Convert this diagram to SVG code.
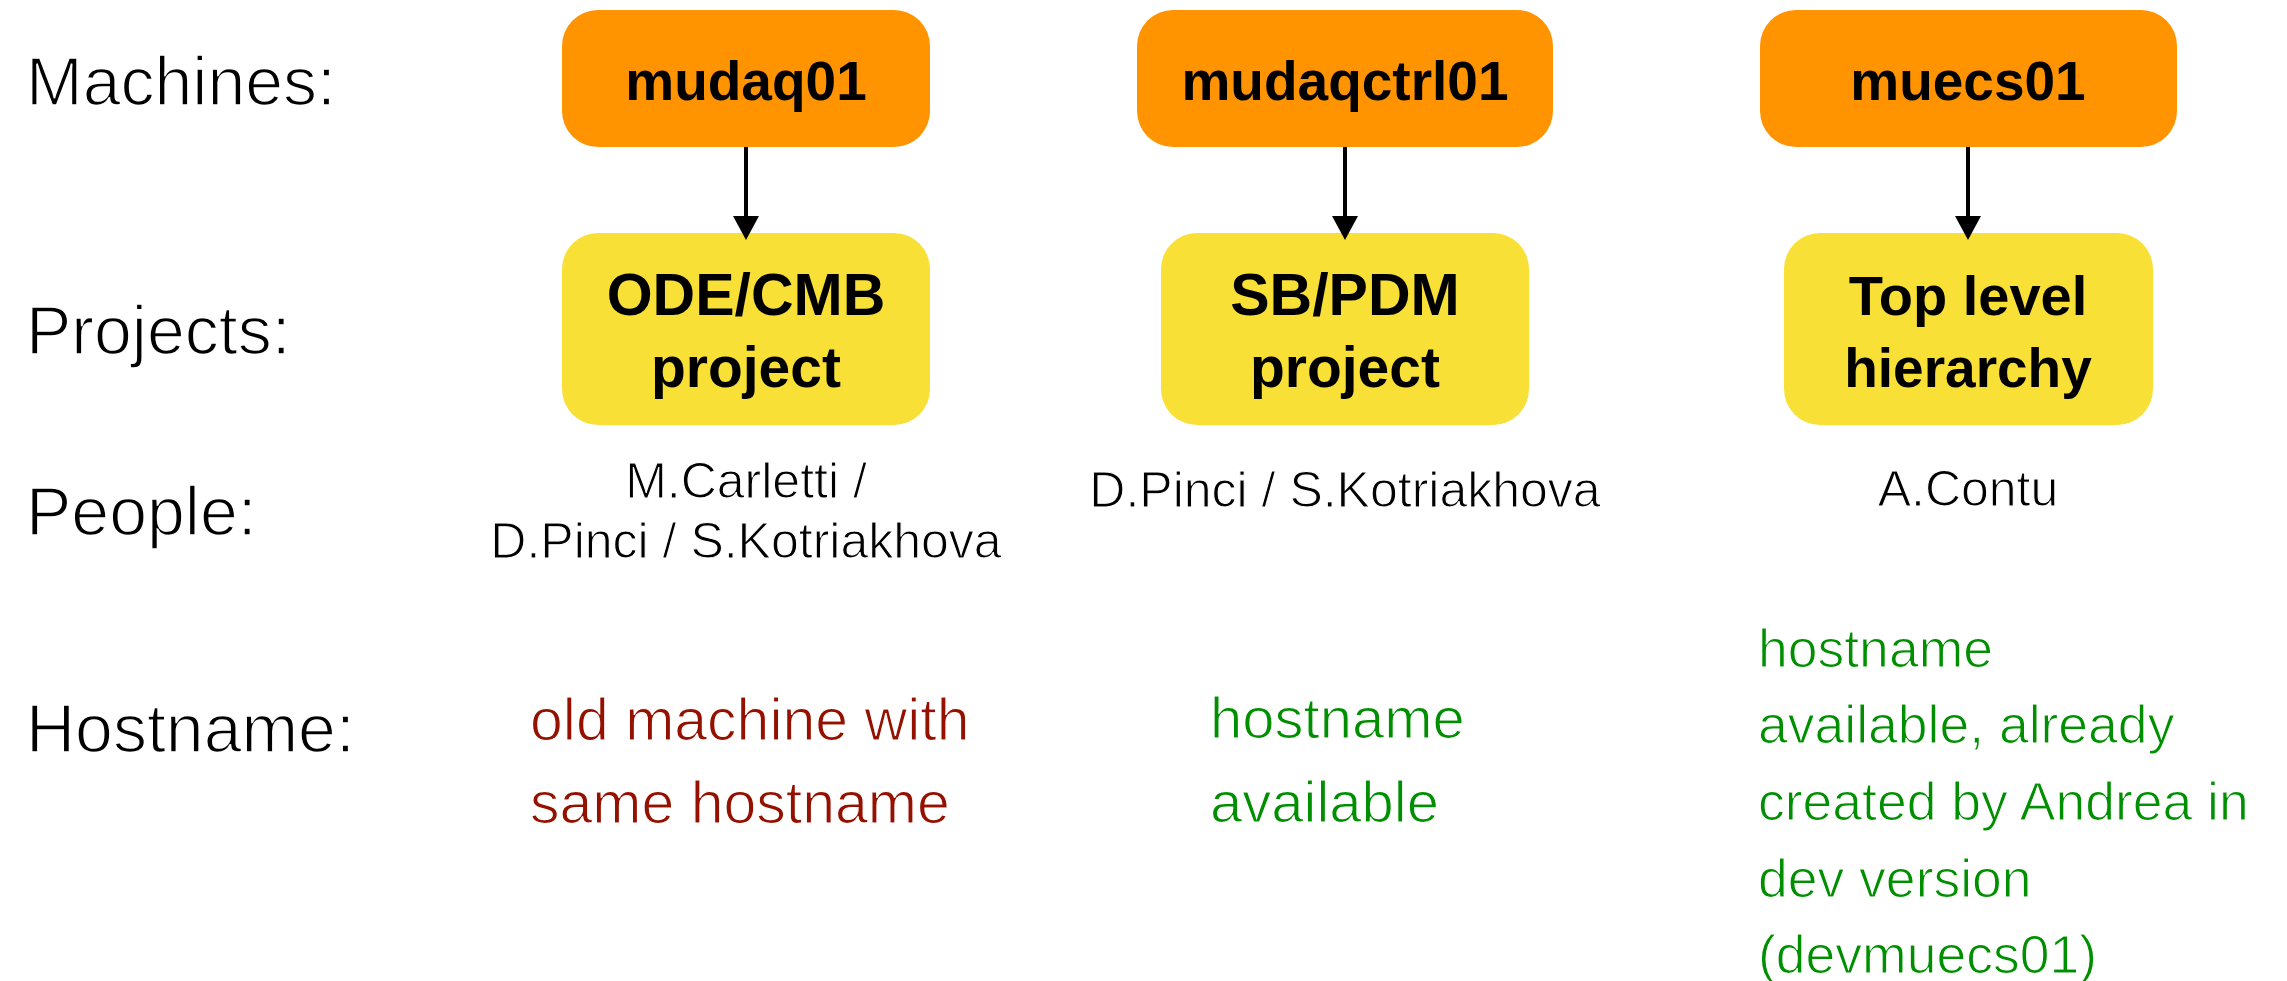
<svg xmlns="http://www.w3.org/2000/svg" width="2287" height="981" viewBox="0 0 2287 981">
<style>
.lbl{font-family:"Liberation Sans",Arial,sans-serif;font-size:68px;fill:#000;stroke:#fff;stroke-width:1.6px}
.mach{fill:#FF9300}
.proj{fill:#F8E036}
.bt{font-family:"Liberation Sans",Arial,sans-serif;font-weight:bold;fill:#000;text-anchor:middle}
.ppl{font-family:"Liberation Sans",Arial,sans-serif;font-size:50px;fill:#000;text-anchor:middle;stroke:#fff;stroke-width:1.1px}
.red{font-family:"Liberation Sans",Arial,sans-serif;font-size:59px;fill:#941100;stroke:#fff;stroke-width:1.2px}
.grn{font-family:"Liberation Sans",Arial,sans-serif;font-size:58px;fill:#008F00;stroke:#fff;stroke-width:1.2px}
.grs{font-family:"Liberation Sans",Arial,sans-serif;font-size:53.5px;fill:#008F00;stroke:#fff;stroke-width:1.1px}
.conn{stroke:#000;stroke-width:4;fill:none;marker-end:url(#ah)}
</style>
<defs>
<marker id="ah" markerUnits="userSpaceOnUse" markerWidth="24" markerHeight="26" refX="16" refY="13" orient="auto" viewBox="0 0 24 26">
<path d="M0,0 L24,13 L0,26 Z" fill="#000"/>
</marker>
</defs>
<rect width="2287" height="981" fill="#fff"/>
<g id="row-labels">
<text class="lbl" x="26" y="105">Machines:</text>
<text class="lbl" x="26" y="354">Projects:</text>
<text class="lbl" x="26" y="535">People:</text>
<text class="lbl" x="26" y="752">Hostname:</text>
</g>
<g id="m-mudaq01">
<rect class="mach" x="562" y="10" width="368" height="137" rx="36"/>
<text class="bt" x="746" y="100" font-size="55">mudaq01</text>
</g>
<g id="m-mudaqctrl01">
<rect class="mach" x="1137" y="10" width="416" height="137" rx="36"/>
<text class="bt" x="1345" y="100" font-size="55">mudaqctrl01</text>
</g>
<g id="m-muecs01">
<rect class="mach" x="1760" y="10" width="417" height="137" rx="36"/>
<text class="bt" x="1968" y="100" font-size="55">muecs01</text>
</g>
<g id="p-odecmb">
<rect class="proj" x="562" y="233" width="368" height="192" rx="36"/>
<text class="bt" x="746" y="315" font-size="59">ODE/CMB</text>
<text class="bt" x="746" y="387" font-size="57">project</text>
</g>
<g id="p-sbpdm">
<rect class="proj" x="1161" y="233" width="368" height="192" rx="36"/>
<text class="bt" x="1345" y="315" font-size="59">SB/PDM</text>
<text class="bt" x="1345" y="387" font-size="57">project</text>
</g>
<g id="p-top">
<rect class="proj" x="1784" y="233" width="369" height="192" rx="36"/>
<text class="bt" x="1968" y="315" font-size="56">Top level</text>
<text class="bt" x="1968" y="387" font-size="55">hierarchy</text>
</g>
<g id="connectors">
<line class="conn" x1="746" y1="147" x2="746" y2="232"/>
<line class="conn" x1="1345" y1="147" x2="1345" y2="232"/>
<line class="conn" x1="1968" y1="147" x2="1968" y2="232"/>
</g>
<g id="people">
<text class="ppl" x="746" y="498">M.Carletti /</text>
<text class="ppl" x="746" y="558">D.Pinci / S.Kotriakhova</text>
<text class="ppl" x="1345" y="507">D.Pinci / S.Kotriakhova</text>
<text class="ppl" x="1968" y="506">A.Contu</text>
</g>
<g id="hostnames">
<text class="red" x="530" y="740">old machine with</text>
<text class="red" x="530" y="823">same hostname</text>
<text class="grn" x="1210" y="738">hostname</text>
<text class="grn" x="1210" y="822">available</text>
<text class="grs" x="1758" y="667">hostname</text>
<text class="grs" x="1758" y="743">available, already</text>
<text class="grs" x="1758" y="820">created by Andrea in</text>
<text class="grs" x="1758" y="897">dev version</text>
<text class="grs" x="1758" y="973">(devmuecs01)</text>
</g>
</svg>
